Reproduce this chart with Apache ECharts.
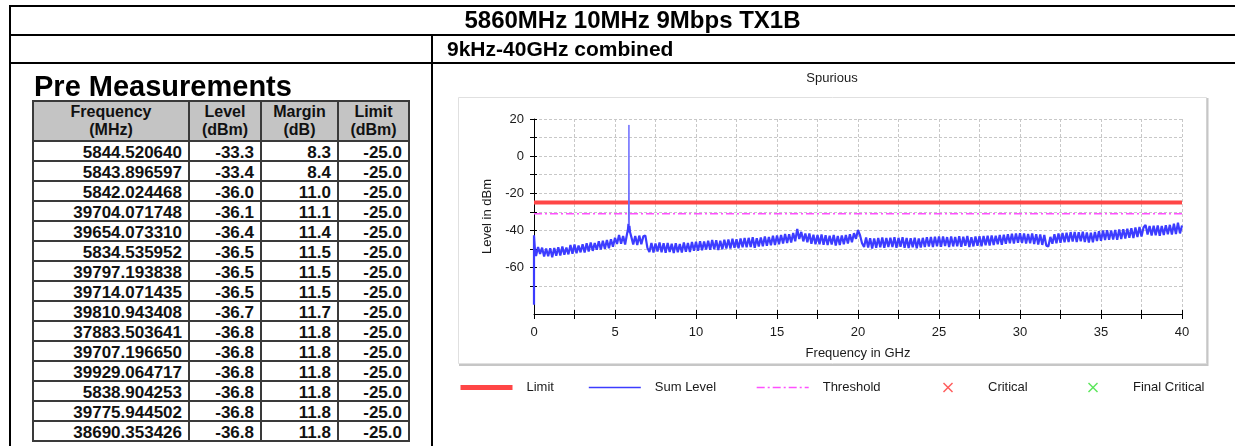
<!DOCTYPE html>
<html>
<head>
<meta charset="utf-8">
<script src="https://cdn.jsdelivr.net/npm/echarts@6/dist/echarts.min.js"></script>
<style>
  html, body { margin: 0; padding: 0; background: #fff; width: 1235px; height: 446px; overflow: hidden;
    font-family: Arial, "Liberation Sans", sans-serif; }
  #chart { position: absolute; left: 0; top: 0; width: 1235px; height: 446px; }
  #frame { position: absolute; left: 0; top: 0; width: 1235px; height: 446px; pointer-events: none; }
  .rule { position: absolute; background: #000; }
  .txt { position: absolute; font-weight: bold; color: #000; white-space: nowrap; }
  .cell { position: absolute; box-sizing: border-box; border: 2px solid #3a3a3a; font-weight: bold;
    color: #111; white-space: nowrap; overflow: visible; }
  .head { background: #c4c4c4; text-align: center; font-size: 16px; line-height: 18px; padding-top: 1px; }
  .body { background: #fff; text-align: right; font-size: 17px; line-height: 18px; padding: 2px 6px 0 0; }
</style>
</head>
<body>
<div id="chart"></div>
<div id="frame"></div>
<script>
// ---- report headings ----
const reportTitle = '5860MHz 10MHz 9Mbps TX1B';
const rangeTitle = '9kHz-40GHz combined';
const tableTitle = 'Pre Measurements';
const chartTitle = 'Spurious';

// ---- peak table ----
const columnHeads = [['Frequency', '(MHz)'], ['Level', '(dBm)'], ['Margin', '(dB)'], ['Limit', '(dBm)']];
const peakFreqMHz = ['5844.520640', '5843.896597', '5842.024468', '39704.071748', '39654.073310',
  '5834.535952', '39797.193838', '39714.071435', '39810.943408', '37883.503641', '39707.196650',
  '39929.064717', '5838.904253', '39775.944502', '38690.353426'];
const peakLevel = [-33.3, -33.4, -36.0, -36.1, -36.4, -36.5, -36.5, -36.5, -36.7, -36.8, -36.8, -36.8, -36.8, -36.8, -36.8];
const peakMargin = [8.3, 8.4, 11.0, 11.1, 11.4, 11.5, 11.5, 11.5, 11.7, 11.8, 11.8, 11.8, 11.8, 11.8, 11.8];
const peakLimit = [-25.0, -25.0, -25.0, -25.0, -25.0, -25.0, -25.0, -25.0, -25.0, -25.0, -25.0, -25.0, -25.0, -25.0, -25.0];

// ---- axes ----
const xLabelValues = [0, 5, 10, 15, 20, 25, 30, 35, 40];
const yLabelValues = [20, 0, -20, -40, -60];
const yGridValues = [20, 10, 0, -10, -20, -30, -40, -50, -60, -70];

// ---- limit lines (dBm) ----
const limitLevel = -25;
const thresholdLevel = -31;

// ---- sum level trace (dBm), sampled every 0.125 GHz from 0.125 GHz to 40 GHz ----
const sumLevelStart = 0.125;
const sumLevelStep = 0.125;
const sumLevel = [
  -53.8, -48.9, -52.7, -49.3, -54.0, -49.8, -53.9, -49.6,
  -54.4, -49.5, -53.6, -49.0, -53.5, -48.6, -53.1, -49.2,
  -52.9, -47.9, -52.6, -47.6, -52.3, -48.2, -51.8, -47.4,
  -51.9, -46.9, -51.3, -46.5, -51.0, -46.8, -50.4, -45.8,
  -50.3, -45.5, -49.9, -45.1, -49.6, -44.8, -48.8, -44.0,
  -47.3, -42.4, -47.2, -43.0, -47.6, -41.5, -41.0, -43.2,
  -47.6, -43.0, -47.9, -42.8, -47.4, -43.2, -42.8, -49.4,
  -51.6, -46.7, -51.9, -47.0, -51.4, -46.5, -51.8, -46.9,
  -52.0, -46.8, -51.6, -47.2, -52.2, -46.9, -51.7, -47.3,
  -51.9, -46.5, -51.5, -46.8, -51.6, -46.2, -50.9, -46.1,
  -50.9, -45.8, -50.7, -46.0, -50.3, -45.5, -50.4, -45.2,
  -50.1, -45.3, -50.6, -45.6, -50.1, -45.0, -49.7, -44.9,
  -49.8, -44.5, -49.4, -44.8, -49.6, -44.3, -49.1, -44.1,
  -49.1, -44.0, -48.9, -43.6, -49.3, -44.2, -48.6, -43.8,
  -48.5, -43.3, -48.2, -43.6, -48.0, -42.9, -47.8, -42.7,
  -47.4, -42.4, -47.1, -41.9, -46.8, -42.0, -46.5, -41.4,
  -45.8, -39.2, -44.6, -40.8, -45.9, -41.6, -46.3, -41.7,
  -47.2, -42.3, -47.5, -42.5, -47.4, -42.2, -47.7, -42.6,
  -47.9, -42.8, -47.6, -42.5, -48.1, -43.0, -47.8, -42.7,
  -47.5, -42.4, -47.0, -42.1, -46.4, -41.5, -44.5, -39.8,
  -42.6, -46.9, -48.9, -43.8, -49.2, -44.2, -49.7, -44.3,
  -49.3, -44.0, -49.1, -43.8, -49.4, -44.1, -48.9, -43.9,
  -49.0, -43.7, -49.3, -44.0, -48.8, -43.6, -49.4, -44.1,
  -49.5, -44.2, -49.1, -43.9, -49.6, -44.3, -49.2, -44.0,
  -48.9, -43.6, -48.7, -43.5, -49.0, -43.4, -48.5, -43.3,
  -48.8, -43.2, -48.4, -43.6, -48.9, -43.3, -48.6, -43.5,
  -48.5, -43.1, -48.8, -43.4, -48.3, -43.0, -48.9, -43.6,
  -48.6, -43.3, -48.2, -43.1, -48.5, -43.0, -48.0, -42.9,
  -48.1, -42.7, -47.8, -42.9, -47.5, -42.4, -47.7, -42.3,
  -47.2, -42.0, -46.9, -41.8, -47.0, -41.6, -46.6, -41.5,
  -46.8, -41.7, -47.1, -41.9, -46.9, -41.6, -47.3, -42.0,
  -47.6, -42.2, -47.8, -42.5, -48.2, -48.6, -43.5, -47.2,
  -42.0, -46.9, -41.6, -46.7, -41.4, -46.4, -41.3, -46.3,
  -40.9, -46.0, -40.8, -46.2, -41.0, -45.9, -40.7, -46.3,
  -41.1, -46.5, -41.2, -46.4, -40.8, -45.7, -40.4, -45.6,
  -40.0, -45.2, -39.9, -45.0, -40.1, -44.9, -39.8, -45.1,
  -39.5, -44.6, -39.3, -44.4, -39.1, -44.0, -38.8, -44.1,
  -38.4, -43.5, -38.2, -43.3, -38.4, -37.0, -42.2, -37.6,
  -42.7, -37.5, -42.6, -37.3, -42.9, -37.6, -42.5, -37.2,
  -42.0, -37.0, -42.2, -36.4, -41.9, -35.9, -41.6, -37.3
];
// start-of-sweep edge and the carrier shoulders around 5.86 GHz: [GHz, dBm]
const sweepStart = [[0, -80.0], [0, -42.6], [0.06, -50.5]];
const carrierShoulder = [[5.80, -39.5], [5.83, -36.5], [5.89, -37.5], [5.93, -41.0]];
// carrier line itself
const carrierPeak = [[5.83, -36.5], [5.86, 16.8], [5.89, -37.5]];

// ---------------- page frame and table ----------------
const frame = document.getElementById('frame');
function addRule(l, t, w, h) {
  const d = document.createElement('div');
  d.className = 'rule';
  Object.assign(d.style, { left: l + 'px', top: t + 'px', width: w + 'px', height: h + 'px' });
  frame.appendChild(d);
}
function addText(txt, css) {
  const d = document.createElement('div');
  d.className = 'txt';
  d.textContent = txt;
  Object.assign(d.style, css);
  frame.appendChild(d);
  return d;
}
addRule(9, 5, 1226, 2);
addRule(9, 34, 1226, 2);
addRule(9, 62, 1226, 2);
addRule(9, 5, 2, 441);
addRule(431, 34, 2, 412);

addText(reportTitle, { left: '10px', width: '1245px', textAlign: 'center', top: '6px', fontSize: '24px', lineHeight: '28px' });
addText(rangeTitle, { left: '447px', top: '36px', fontSize: '21px', lineHeight: '25px' });
addText(tableTitle, { left: '34px', top: '71px', fontSize: '29px', lineHeight: '30px' });

const colEdges = [33, 189, 261, 338, 409];
const headTop = 101, headBottom = 141, rowH = 20;
function addCell(c, top, bottom, cls, html) {
  const d = document.createElement('div');
  d.className = 'cell ' + cls;
  Object.assign(d.style, {
    left: (colEdges[c] - 1) + 'px', width: (colEdges[c + 1] - colEdges[c] + 2) + 'px',
    top: (top - 1) + 'px', height: (bottom - top + 2) + 'px'
  });
  d.innerHTML = html;
  frame.appendChild(d);
}
columnHeads.forEach((h, c) => addCell(c, headTop, headBottom, 'head', h[0] + '<br>' + h[1]));
peakFreqMHz.forEach((f, r) => {
  const t = headBottom + r * rowH, b = t + rowH;
  addCell(0, t, b, 'body', f);
  addCell(1, t, b, 'body', peakLevel[r].toFixed(1));
  addCell(2, t, b, 'body', peakMargin[r].toFixed(1));
  addCell(3, t, b, 'body', peakLimit[r].toFixed(1));
});

// ---------------- spectrum chart ----------------
const sumTrace = sweepStart
  .concat(sumLevel.map((v, i) => [sumLevelStart + i * sumLevelStep, v]), carrierShoulder)
  .sort((a, b) => a[0] - b[0]);

const crossPath = 'path://M10,0L50,40L90,0L100,10L60,50L100,90L90,100L50,60L10,100L0,90L40,50L0,10Z';
const fontFamily = 'Arial, "Liberation Sans", sans-serif';
const labelFont = { fontFamily: fontFamily, fontSize: 13, color: '#1a1a1a' };
const gridDash = { color: '#c8c8c8', width: 1, type: [3, 2] };
const limitRed = '#ff4646';
const traceBlue = '#3c3cff';
const thresholdPink = '#ff50ff';
const dashDot = [8, 3, 2, 3];

// line keys: a plain line in the series colour, with the marker dot hidden
function lineLegend(name, left, lineStyle) {
  return {
    data: [name], left: left, top: 381, itemWidth: 52, itemHeight: 14,
    selectedMode: false, padding: 0, itemStyle: { opacity: 0 }, lineStyle: lineStyle,
    textStyle: Object.assign({}, labelFont, { padding: [0, 0, 0, 9] })
  };
}
function markLegend(name, left) {
  return {
    data: [name], left: left, top: 381, itemWidth: 10, itemHeight: 10,
    selectedMode: false, padding: 0,
    textStyle: Object.assign({}, labelFont, { padding: [0, 0, 0, 30] })
  };
}

const chart = echarts.init(document.getElementById('chart'), null, { renderer: 'canvas' });
chart.setOption({
  animation: false,
  backgroundColor: 'transparent',
  graphic: [
    { type: 'rect', z: -10, silent: true, shape: { x: 458.5, y: 97.5, width: 748, height: 266 },
      style: { fill: '#fff', stroke: '#e0e0e0', lineWidth: 1 } },
    { type: 'polyline', z: -9, silent: true, shape: { points: [[1207.5, 98], [1207.5, 365], [459, 365]] },
      style: { stroke: '#c6c6c6', lineWidth: 2, fill: null } },
    { type: 'text', z: 5, silent: true, x: 832, y: 78,
      style: { text: chartTitle, fill: '#1a1a1a', font: '13px ' + fontFamily, align: 'center', verticalAlign: 'middle' } }
  ],
  grid: { left: 534, top: 119, width: 648, height: 195, containLabel: false },
  legend: [
    lineLegend('Limit', 458, { color: limitRed, width: 5, type: 'solid' }),
    lineLegend('Sum Level', 588, { color: traceBlue, width: 1.6, type: 'solid' }),
    lineLegend('Threshold', 756, { color: thresholdPink, width: 1.4, type: dashDot }),
    markLegend('Critical', 943),
    markLegend('Final Critical', 1088)
  ],
  xAxis: [
    {
      type: 'value', min: 0, max: 40, interval: 2.5,
      name: 'Frequency in GHz', nameLocation: 'middle', nameGap: 33, nameTextStyle: labelFont,
      axisLine: { onZero: false, lineStyle: { color: '#000', width: 1 } },
      axisTick: { length: 5, lineStyle: { color: '#000' } },
      axisLabel: Object.assign({}, labelFont, {
        margin: 12, formatter: v => (xLabelValues.indexOf(v) >= 0 ? String(v) : '')
      }),
      splitLine: { show: true, lineStyle: gridDash }
    },
    {
      type: 'value', min: 0, max: 40, interval: 2.5, position: 'bottom',
      axisLine: { show: false, onZero: false }, axisLabel: { show: false }, splitLine: { show: false },
      axisTick: { inside: true, length: 4, lineStyle: { color: '#000' } }
    }
  ],
  yAxis: [
    {
      type: 'value', min: -85, max: 20,
      name: 'Level in dBm', nameLocation: 'middle', nameGap: 36, nameTextStyle: labelFont,
      axisLine: { show: true, onZero: false, lineStyle: { color: '#000', width: 1 } },
      axisTick: { show: true, length: 4, customValues: yGridValues, lineStyle: { color: '#000' } },
      axisLabel: Object.assign({}, labelFont, { margin: 10, customValues: yLabelValues }),
      splitLine: { show: true, lineStyle: gridDash }
    },
    {
      type: 'value', min: -85, max: 20, position: 'left',
      axisLine: { show: false, onZero: false }, axisLabel: { show: false }, splitLine: { show: false },
      axisTick: { show: true, inside: true, length: 3, customValues: yGridValues, lineStyle: { color: '#000' } }
    }
  ],
  series: [
    {
      name: 'Limit', type: 'line', symbol: 'none', z: 3,
      data: [[0, limitLevel], [40, limitLevel]],
      itemStyle: { color: limitRed }, lineStyle: { color: limitRed, width: 4 }
    },
    {
      name: 'Sum Level', type: 'line', symbol: 'none', z: 4,
      data: sumTrace,
      itemStyle: { color: traceBlue }, lineStyle: { color: traceBlue, width: 2.2 }
    },
    {
      name: 'Carrier', type: 'line', symbol: 'none', z: 4,
      data: carrierPeak,
      itemStyle: { color: '#6a6aff' }, lineStyle: { color: '#6a6aff', width: 1 }
    },
    {
      name: 'Threshold', type: 'line', symbol: 'none', z: 3,
      data: [[0, thresholdLevel], [40, thresholdLevel]],
      itemStyle: { color: thresholdPink }, lineStyle: { color: thresholdPink, width: 1.5, type: dashDot }
    },
    {
      name: 'Critical', type: 'scatter', symbol: crossPath, symbolSize: 10, data: [],
      itemStyle: { color: '#ff3030' }
    },
    {
      name: 'Final Critical', type: 'scatter', symbol: crossPath, symbolSize: 10, data: [],
      itemStyle: { color: '#30e030' }
    }
  ]
});
</script>
</body>
</html>
